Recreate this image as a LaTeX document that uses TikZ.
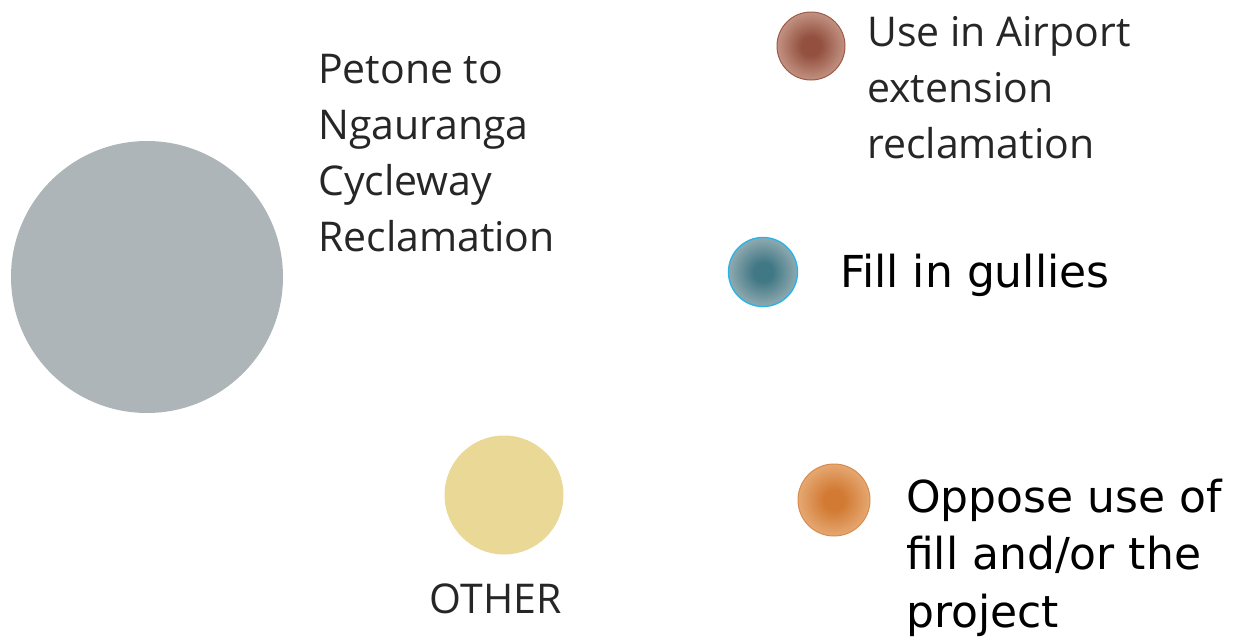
\documentclass[tikz,border=0pt]{standalone}
\usepackage{fontspec}
\usepackage{tikz}
\usetikzlibrary{positioning}

\newfontfamily\opensans{Open Sans}
\newfontfamily\dejavu{DejaVu Sans}

\definecolor{cyclegrey}{HTML}{AEB5B8}
\definecolor{othersand}{HTML}{EAD996}
\definecolor{airportin}{HTML}{93503F}
\definecolor{airportout}{HTML}{C29282}
\definecolor{airportrim}{HTML}{9C5A4A}
\definecolor{gulliesin}{HTML}{417885}
\definecolor{gulliesout}{HTML}{90AAB0}
\definecolor{gulliesrim}{HTML}{2BB3E6}
\definecolor{opposein}{HTML}{D27A33}
\definecolor{opposeout}{HTML}{E5A872}
\definecolor{opposerim}{HTML}{D88B4C}
\definecolor{labeltext}{HTML}{262626}
\colorlet{bubin}{black}
\colorlet{bubout}{white}

\pgfdeclareradialshading[bubin,bubout]{softball}{\pgfpoint{0bp}{0bp}}{%
  color(0bp)=(bubin); color(7bp)=(bubin); color(25bp)=(bubout); color(50bp)=(bubout)}

\begin{document}
\begin{tikzpicture}[x=1pt, y=-1pt,
  bubble/.style={circle, inner sep=0pt, outer sep=0pt},
  softshade/.style 2 args={/utils/exec={\colorlet{bubin}{#1}\colorlet{bubout}{#2}},
    shading=softball},
  lbl/.style={anchor=base west, inner sep=0pt, align=left, text=labeltext,
    font=\opensans\fontsize{41}{56}\selectfont},
  lblb/.style={anchor=base west, inner sep=0pt, align=left, text=black,
    font=\dejavu\fontsize{44}{57.5}\selectfont}]

  \useasboundingbox (0,0) rectangle (1243,643);

  % bubbles
  \node [bubble, fill=cyclegrey, minimum size=272pt] (cycleway) at (147,277) {};
  \node [bubble, fill=othersand, minimum size=119pt] (other) at (504,495) {};
  \node [bubble, softshade={airportin}{airportout}, draw=airportrim,
         line width=1pt, minimum size=68pt] (airport) at (811,46) {};
  \node [bubble, softshade={gulliesin}{gulliesout}, draw=gulliesrim,
         line width=1.4pt, minimum size=69pt] (gullies) at (763,272) {};
  \node [bubble, softshade={opposein}{opposeout}, draw=opposerim,
         line width=1pt, minimum size=72pt] (oppose) at (834,500) {};

  % labels (base = last line)
  \node [lbl] (cyclewaytxt) at (318,251) {Petone to\\Ngauranga\\Cycleway\\Reclamation};
  \node [lbl] (airporttxt) at (867,158) {Use in Airport\\extension\\reclamation};
  \node [lbl] (othertxt) at (429.5,613) {OTHER};
  \node [lblb] (galliestxt) at (840,287) {Fill in gullies};
  \node [lblb] (opposetxt) at (906,627) {Oppose use of\\fill and/or the\\project};
\end{tikzpicture}
\end{document}
